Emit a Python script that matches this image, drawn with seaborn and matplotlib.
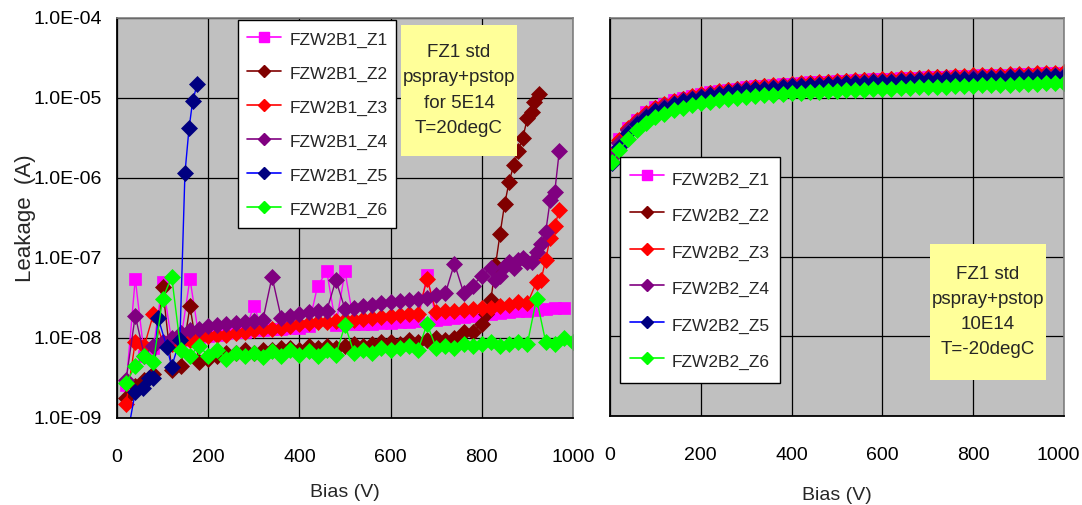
import numpy as np
import pandas as pd
import matplotlib
matplotlib.use("Agg")
import matplotlib.pyplot as plt
import matplotlib.transforms as mtransforms
import seaborn as sns
from matplotlib.ticker import FixedLocator, FuncFormatter, NullLocator
from matplotlib.patches import Rectangle

sns.set_theme(style="white")
plt.rcParams['font.family'] = ['Liberation Sans', 'DejaVu Sans']

# ---------------- data ----------------
# Left panel: FZW2B1, leakage in nA, bias in V
L_V = [20, 40, 60, 80, 100, 120, 140, 160, 180, 200, 220, 240, 260, 280, 300, 320, 340, 360, 380, 400,
       420, 440, 460, 480, 500, 520, 540, 560, 580, 600, 620, 640, 660, 680, 700, 720, 740, 760, 780, 800,
       820, 840, 860, 880, 900, 920, 940, 960, 980, 1000]

L_Z1 = [2.6, 55, 6, 7.5, 50, 9, 9.5, 55, 10, 10.5, 11, 11.5, 12, 12, 25, 12.5, 13, 13, 13.5, 13.5,
        14, 45, 68, 14.5, 68, 15, 15, 15, 15.5, 15.5, 16, 16, 16.5, 62, 17, 17.5, 18, 18.5, 19, 19.5,
        20, 20.5, 21, 21.5, 22, 22.5, 23, 23.5, 24]
L_Z2_V = L_V[:40] + [810, 820, 830, 840, 850, 860, 870, 880, 890, 900, 910, 915, 925]
L_Z2 = [1.8, 2.5, 3, 3.5, 43, 4, 4.5, 25, 5, 5.5, 6, 6.5, 6.5, 7, 6.5, 7, 7, 7.5, 7.5, 7,
        8, 7.5, 8, 7.5, 8, 8.5, 8, 8.5, 9, 9, 8.5, 9.5, 9, 9.5, 10, 9.5, 10, 12, 12, 15,
        20, 30, 81, 200, 470, 900, 1450, 2200, 3200, 5600, 6700, 8900, 11200]
L_Z3_V = L_V[:46] + [930, 940, 950, 960, 970]
L_Z3 = [1.5, 9, 8, 20, 9, 8.5, 9, 9.5, 10, 10.5, 11, 11, 11.5, 12, 12.5, 13, 13, 13.5, 14, 15,
        15.5, 16, 16, 16.5, 17, 17, 17.5, 18, 18.5, 19, 19.5, 20, 20, 55, 21, 21.5, 22, 22.5, 23, 24,
        24, 25, 26, 28, 27, 50, 53, 95, 180, 250, 400]
L_Z4_V = L_V[:41] + [830, 840, 850, 860, 870, 880, 890, 900, 910, 920, 930, 940, 950, 960, 970]
L_Z4 = [3, 19, 6, 8, 9, 10, 11.5, 12.5, 13, 14, 14.5, 15, 15.5, 16, 16.5, 17, 58, 18, 19, 20,
        21, 21.5, 22, 53, 23, 24, 25, 26, 27, 28, 29, 30, 31, 32, 34, 36, 85, 37, 45, 60,
        75, 53, 60, 80, 90, 75, 95, 100, 90, 88, 118, 150, 210, 530, 670, 2200]
L_Z5_V = [20, 40, 57, 70, 79, 90, 109, 120, 138, 149, 158, 166, 176]
L_Z5 = [0.5, 2.1, 2.4, 3.2, 3.2, 18, 7.8, 4.4, 9.5, 1150, 4200, 9200, 15000]
L_Z6 = [2.7, 4.5, 6, 5, 31, 58, 7, 6, 8, 6, 7, 5.5, 6.5, 6, 6.5, 5.8, 6.8, 6, 7, 6.2,
        6.8, 6, 7, 6.2, 14.5, 6.5, 7, 6.5, 7.5, 7, 7.5, 8, 7, 15, 7.5, 8, 7.5, 8.5, 8, 8.5,
        9, 8, 8.5, 9, 8.5, 31, 9, 8.5, 10, 9]

# Right panel: FZW2B2, leakage in uA
R_V = [5, 20, 40, 60, 80, 100, 120, 140, 160, 180, 200, 220, 240, 260, 280, 300, 320, 340, 360, 380, 400,
       420, 440, 460, 480, 500, 520, 540, 560, 580, 600, 620, 640, 660, 680, 700, 720, 740, 760, 780, 800,
       820, 840, 860, 880, 900, 920, 940, 960, 980, 1000]
R_Z1 = [2.1, 3.0, 4.2, 5.3, 6.5, 7.6, 8.4, 9.2, 9.9, 10.6, 11.2, 11.7, 12.2, 12.6, 13.0, 13.4, 13.8, 14.1, 14.4, 14.7, 15.0,
        15.3, 15.5, 15.7, 15.9, 16.1, 16.3, 16.5, 16.7, 16.9, 17.1, 17.3, 17.5, 17.6, 17.8, 18.0, 18.2, 18.3, 18.5, 18.7, 18.9,
        19.0, 19.2, 19.3, 19.5, 19.7, 19.8, 20.0, 20.1, 20.3, 20.5]
R_Z2 = [1.9, 2.8, 4.0, 5.1, 6.3, 7.3, 8.1, 8.9, 9.6, 10.3, 10.9, 11.4, 11.9, 12.3, 12.7, 13.1, 13.5, 13.8, 14.1, 14.4, 14.7,
        15.0, 15.2, 15.4, 15.6, 15.8, 16.0, 16.2, 16.4, 16.6, 16.8, 17.0, 17.2, 17.3, 17.5, 17.7, 17.9, 18.0, 18.2, 18.4, 18.6,
        18.7, 18.9, 19.0, 19.2, 19.4, 19.5, 19.7, 19.8, 20.0, 20.2]
R_Z3 = [1.9, 2.9, 4.1, 5.2, 6.4, 7.4, 8.2, 9.0, 9.7, 10.4, 11.0, 11.5, 12.0, 12.4, 12.9, 13.3, 13.6, 14.0, 14.3, 14.6, 14.9,
        15.2, 15.4, 15.6, 15.8, 16.0, 16.2, 16.4, 16.6, 16.8, 17.0, 17.2, 17.4, 17.6, 17.8, 18.0, 18.2, 18.4, 18.6, 18.8, 19.0,
        19.2, 19.3, 19.5, 19.7, 19.9, 20.0, 20.2, 20.4, 20.5, 20.7]
R_Z4 = [1.8, 2.7, 3.9, 4.9, 6.0, 7.0, 7.8, 8.6, 9.3, 9.9, 10.5, 11.0, 11.5, 11.9, 12.3, 12.7, 13.0, 13.3, 13.6, 13.9, 14.2,
        14.4, 14.6, 14.8, 15.0, 15.2, 15.4, 15.6, 15.8, 16.0, 16.2, 16.3, 16.5, 16.7, 16.9, 17.0, 17.2, 17.4, 17.5, 17.7, 17.9,
        18.0, 18.2, 18.3, 18.5, 18.6, 18.8, 18.9, 19.1, 19.2, 19.4]
R_Z5 = [1.5, 2.4, 3.6, 4.6, 5.7, 6.7, 7.5, 8.3, 9.0, 9.6, 10.2, 10.7, 11.2, 11.6, 12.0, 12.4, 12.7, 13.0, 13.3, 13.6, 13.9,
        14.1, 14.3, 14.5, 14.7, 14.9, 15.1, 15.3, 15.4, 15.6, 15.8, 15.9, 16.1, 16.3, 16.4, 16.6, 16.7, 16.9, 17.0, 17.2, 17.3,
        17.5, 17.6, 17.8, 17.9, 18.1, 18.2, 18.3, 18.5, 18.6, 18.8]
R_Z6 = [1.55, 2.2, 3.0, 3.9, 4.8, 5.7, 6.3, 6.9, 7.5, 8.0, 8.5, 8.9, 9.3, 9.6, 9.9, 10.2, 10.5, 10.7, 10.9, 11.1, 11.3,
        11.5, 11.7, 11.9, 12.0, 12.2, 12.3, 12.5, 12.6, 12.7, 12.9, 13.0, 13.1, 13.3, 13.4, 13.5, 13.6, 13.7, 13.9, 14.0, 14.1,
        14.2, 14.3, 14.5, 14.6, 14.7, 14.8, 14.9, 15.1, 15.2, 15.4]

Y_TICKS = [1e-9, 1e-8, 1e-7, 1e-6, 1e-5, 1e-4]
X_TICKS = [0, 200, 400, 600, 800, 1000]

LABELS_L = ['FZW2B1_Z1', 'FZW2B1_Z2', 'FZW2B1_Z3', 'FZW2B1_Z4', 'FZW2B1_Z5', 'FZW2B1_Z6']
LABELS_R = ['FZW2B2_Z1', 'FZW2B2_Z2', 'FZW2B2_Z3', 'FZW2B2_Z4', 'FZW2B2_Z5', 'FZW2B2_Z6']
NOTE_L = 'FZ1 std\npspray+pstop\nfor 5E14\nT=20degC'
NOTE_R = 'FZ1 std\npspray+pstop\n10E14\nT=-20degC'

# styles: (line color, marker, marker color)
STYLES = [('#FF00FF', 's', '#FF00FF'), ('#800000', 'D', '#800000'), ('#FF0000', 'D', '#FF0000'),
          ('#800080', 'D', '#800080'), ('#0000FF', 'D', '#000080'), ('#00FF00', 'D', '#00FF00')]

W, H = 1082, 505
fig = plt.figure(figsize=(W / 100, H / 100), dpi=100)
axL = fig.add_axes([117 / W, 1 - 418 / H, (573 - 117) / W, (418 - 18) / H])
axR = fig.add_axes([610 / W, 1 - 416 / H, (1064 - 610) / W, (416 - 18) / H])


def draw(ax, series, labels, xlabelpad):
    handles = []
    for (xs, ys), lab, (lc, mk, mc) in zip(series, labels, STYLES):
        df = pd.DataFrame({'Bias': xs, 'Leakage': ys})
        sns.lineplot(data=df, x='Bias', y='Leakage', ax=ax, sort=False, estimator=None,
                     color=lc, lw=1.0, marker=mk, markersize=8 if mk == 'D' else 8.5,
                     markerfacecolor=mc, markeredgecolor=mc, markeredgewidth=0.5,
                     label=lab, legend=False)
        h, = ax.plot([], [], color=lc, lw=1.2, marker=mk, markersize=6.5 if mk == 's' else 6,
                     markerfacecolor=mc, markeredgecolor=mc)
        handles.append(h)
    ax.set_facecolor('#C0C0C0')
    ax.set_yscale('log')
    ax.set_ylim(1e-9, 1e-4)
    ax.set_xlim(0, 1000)
    ax.yaxis.set_major_locator(FixedLocator(Y_TICKS))
    ax.yaxis.set_minor_locator(NullLocator())
    ax.xaxis.set_major_locator(FixedLocator(X_TICKS))
    ax.grid(True, which='major', color='black', lw=0.9)
    for s in ['top', 'right']:
        ax.spines[s].set_color('#808080')
        ax.spines[s].set_linewidth(1.2)
    for s in ['left', 'bottom']:
        ax.spines[s].set_color('black')
        ax.spines[s].set_linewidth(1.3)
    ax.tick_params(axis='both', labelsize=14, colors='black', length=0)
    ax.tick_params(axis='x', pad=22)
    ax.tick_params(axis='y', pad=11)
    ax.set_xlabel('Bias (V)', fontsize=14, labelpad=xlabelpad)
    return handles


nA = 1e-9
uA = 1e-6
left_series = [(L_V[:49], [v * nA for v in L_Z1]), (L_Z2_V, [v * nA for v in L_Z2]),
               (L_Z3_V, [v * nA for v in L_Z3]), (L_Z4_V, [v * nA for v in L_Z4]),
               (L_Z5_V, [v * nA for v in L_Z5]), (L_V, [v * nA for v in L_Z6])]
right_series = [(R_V, [v * uA for v in s]) for s in [R_Z1, R_Z2, R_Z3, R_Z4, R_Z5, R_Z6]]

hL = draw(axL, left_series, LABELS_L, 13)
hR = draw(axR, right_series, LABELS_R, 17)

axL.yaxis.set_major_formatter(FuncFormatter(lambda v, p: f"{v:.1E}"))
axL.set_ylabel('Leakage  (A)', fontsize=16, labelpad=-2)
axR.set_ylabel('')
axR.tick_params(axis='y', labelleft=False)

# keep the last right-hand tick label inside the canvas
fig.canvas.draw()
last = axR.get_xticklabels()[-1]
last.set_transform(last.get_transform() + mtransforms.ScaledTranslation(-6 / 100, 0, fig.dpi_scale_trans))

legprops = dict(size=12.5)
legL = fig.legend(hL, LABELS_L, loc='upper left', bbox_to_anchor=(238 / W, 1 - 20 / H), prop=legprops,
                  frameon=True, fancybox=False, framealpha=1, edgecolor='black', handlelength=2.0,
                  handleheight=1.45, handletextpad=0.45, labelspacing=0.77, borderpad=0.5,
                  borderaxespad=0)
legL.get_frame().set_linewidth(1.0)
legR = fig.legend(hR, LABELS_R, loc='upper left', bbox_to_anchor=(620 / W, 1 - 157 / H), prop=legprops,
                  frameon=True, fancybox=False, framealpha=1, edgecolor='black', handlelength=2.0,
                  handleheight=1.8, handletextpad=0.45, labelspacing=0.69, borderpad=0.55,
                  borderaxespad=0)
legR.get_frame().set_linewidth(1.0)

# yellow note boxes
for (x0, y0, x1, y1), note in [((401, 25, 517, 156), NOTE_L), ((930, 244, 1046, 380), NOTE_R)]:
    fig.patches.append(Rectangle((x0 / W, 1 - y1 / H), (x1 - x0) / W, (y1 - y0) / H,
                                 transform=fig.transFigure, facecolor='#FFFF99', edgecolor='none', zorder=3))
    fig.text((x0 + x1) / 2 / W, 1 - (y0 + y1) / 2 / H, note, ha='center', va='center',
             fontsize=13.5, linespacing=1.62, zorder=4)

fig.savefig('out.png', dpi=100, facecolor='white')
